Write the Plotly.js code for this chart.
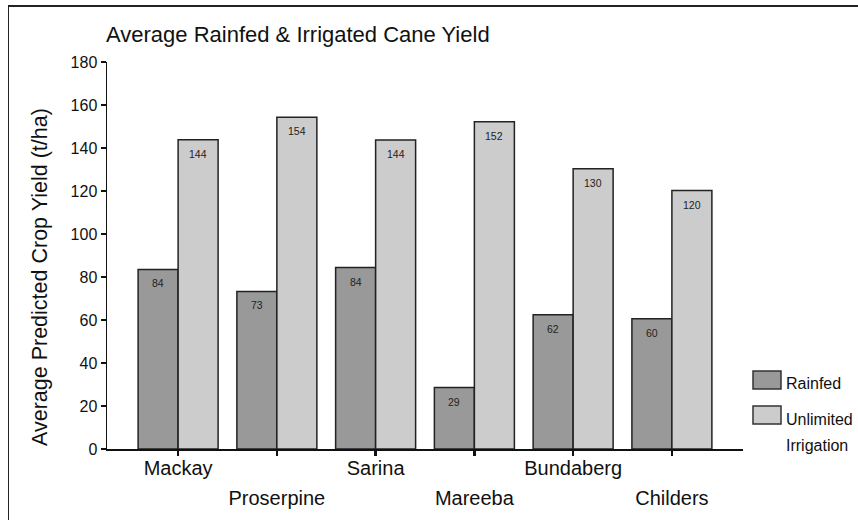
<!DOCTYPE html>
<html>
<head>
<meta charset="utf-8">
<script src="https://cdn.plot.ly/plotly-3.0.1.min.js"></script>
<style>
  html, body { margin: 0; padding: 0; background: #fff; }
  #wrap { position: relative; width: 858px; height: 520px; overflow: hidden; }
  #frame { position: absolute; left: 8px; top: 5px; width: 900px; height: 600px;
           border-top: 2px solid #222; border-left: 1.5px solid #222; pointer-events: none; z-index: 5; }
  #chart { position: absolute; left: 0; top: 0; width: 858px; height: 520px; }
</style>
</head>
<body>
<div id="wrap">
  <div id="chart"></div>
  <div id="frame"></div>
</div>
<script>
const categories = ["Mackay", "Proserpine", "Sarina", "Mareeba", "Bundaberg", "Childers"];
const rainfed = [83.5, 73.3, 84.4, 28.6, 62.5, 60.6];
const irrigated = [143.8, 154.3, 143.7, 152.2, 130.4, 120.2];
const rainfedLabels = ["84", "73", "84", "29", "62", "60"];
const irrigatedLabels = ["144", "154", "144", "152", "130", "120"];
const seriesNames = ["Rainfed", "Unlimited<br>Irrigation"];
const seriesColors = ["#999999", "#cccccc"];
const yTicks = [0, 20, 40, 60, 80, 100, 120, 140, 160, 180];

const FONT = "Arial, 'Liberation Sans', Helvetica, sans-serif";
const xIdx = categories.map((c, i) => i);

// plot area geometry (px) used to place paper-referenced legend items
const L = 107, T = 62, W = 636, H = 387;
const px2x = p => (p - L) / W;
const py2y = p => (T + H - p) / H;

const BARGAP = 0.19;
const half = (1 - BARGAP) / 4; // offset of each bar centre from category centre

const traces = [rainfed, irrigated].map((vals, k) => ({
  type: "bar",
  name: seriesNames[k],
  x: xIdx,
  y: vals,
  marker: { color: seriesColors[k], line: { color: "#222", width: 1.5 } },
  showlegend: false
}));

// value labels near the top, inside each bar
const annotations = [];
[[rainfed, rainfedLabels, -1], [irrigated, irrigatedLabels, 1]].forEach(([vals, labels, s]) => {
  vals.forEach((v, i) => {
    annotations.push({
      x: i + s * half, y: v, xref: "x", yref: "y",
      text: labels[i], showarrow: false,
      yanchor: "top", yshift: -6,
      font: { family: FONT, size: 10.5, color: "#222" }
    });
  });
});

// y-axis title
annotations.push({
  xref: "paper", yref: "paper",
  x: px2x(40), y: py2y(277),
  text: "Average Predicted Crop Yield (t/ha)",
  textangle: -90, showarrow: false,
  xanchor: "center", yanchor: "middle",
  font: { family: FONT, size: 21.5, color: "#111" }
});

// custom legend (boxes + labels)
const shapes = [];
const legendBoxes = [[371, 389], [406, 424]];
const legendLineY = [[383], [419, 445]];
seriesNames.forEach((n, k) => {
  shapes.push({
    type: "rect", xref: "paper", yref: "paper",
    x0: px2x(753), x1: px2x(781),
    y0: py2y(legendBoxes[k][1]), y1: py2y(legendBoxes[k][0]),
    fillcolor: seriesColors[k], line: { color: "#333", width: 1.5 }
  });
  n.split("<br>").forEach((line, j) => {
    annotations.push({
      xref: "paper", yref: "paper",
      x: px2x(784), y: py2y(legendLineY[k][j]),
      text: line, showarrow: false, align: "left",
      xanchor: "left", yanchor: "middle",
      font: { family: FONT, size: 16, color: "#111" }
    });
  });
});

const ticktext = categories.map((c, i) =>
  (i % 2 === 0 ? "" : "<br>") + "<span style='font-size:20px'>" + c + "</span>");

const layout = {
  width: 858,
  height: 520,
  paper_bgcolor: "#fff",
  plot_bgcolor: "#fff",
  margin: { l: L, r: 858 - L - W, t: T, b: 520 - T - H, pad: 0 },
  barmode: "group",
  bargap: BARGAP,
  bargroupgap: 0,
  font: { family: FONT, color: "#111" },
  title: {
    text: "Average Rainfed &amp; Irrigated Cane Yield",
    font: { family: FONT, size: 22, color: "#111" },
    xref: "container", yref: "container",
    x: 106 / 858, xanchor: "left",
    y: 1 - 34 / 520, yanchor: "middle"
  },
  xaxis: {
    range: [-0.72, 5.72],
    tickmode: "array",
    tickvals: xIdx,
    ticktext: ticktext,
    ticks: "outside",
    ticklen: 5,
    tickwidth: 2.5,
    tickcolor: "#111",
    ticklabelstandoff: -8,
    showline: true,
    linecolor: "#111",
    linewidth: 1.5,
    showgrid: false,
    zeroline: false,
    tickfont: { family: FONT, size: 23, color: "#111" },
    fixedrange: true
  },
  yaxis: {
    range: [0, 180],
    tickmode: "array",
    tickvals: yTicks,
    ticktext: yTicks.map(String),
    ticks: "outside",
    ticklen: 5,
    tickwidth: 2.5,
    tickcolor: "#111",
    showline: true,
    linecolor: "#111",
    linewidth: 1.5,
    showgrid: false,
    zeroline: false,
    tickfont: { family: FONT, size: 16, color: "#111" },
    fixedrange: true
  },
  showlegend: false,
  annotations: annotations,
  shapes: shapes
};

Plotly.newPlot("chart", traces, layout, { staticPlot: true, displayModeBar: false });
</script>
</body>
</html>
